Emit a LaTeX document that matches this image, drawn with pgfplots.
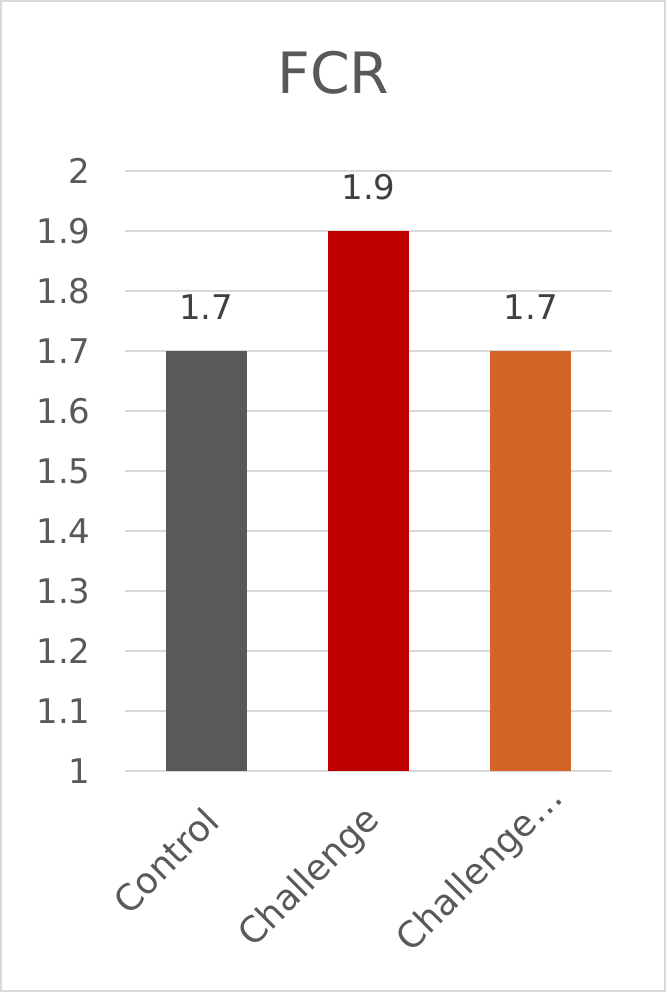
\documentclass[border=0pt]{standalone}
\usepackage{fontspec}
\setmainfont{DejaVu Sans}
\usepackage{pgfplots}
\pgfplotsset{compat=1.18}
\definecolor{txt}{HTML}{595959}
\definecolor{lbl}{HTML}{404040}
\definecolor{grd}{HTML}{D9D9D9}
\definecolor{cgray}{HTML}{595959}
\definecolor{cred}{HTML}{C00000}
\definecolor{corange}{HTML}{D26428}
\begin{document}
\begin{tikzpicture}
\begin{axis}[
  scale only axis,
  width=487bp, height=600bp,
  xmin=-0.5, xmax=2.5,
  ymin=1, ymax=2,
  ytick={1,1.1,1.2,1.3,1.4,1.5,1.6,1.7,1.8,1.9,2},
  yticklabels={1,1.1,1.2,1.3,1.4,1.5,1.6,1.7,1.8,1.9,2},
  xtick={0,1,2},
  xticklabels={Control,Challenge,{Challenge…\kern-30bp}},
  /pgf/number format/assume math mode=true,
  ticklabel style={font=\fontsize{34bp}{40bp}\selectfont, text=txt},
  yticklabel style={xshift=-31bp},
  xticklabel style={font=\fontsize{36bp}{42bp}\selectfont, xshift=8bp, yshift=-41bp, rotate=45, anchor=east},
  major tick length=0pt,
  axis x line*=bottom,
  axis y line*=left,
  y axis line style={draw=none},
  x axis line style={grd, line width=2.5bp, -},
  ymajorgrids,
  grid style={grd, line width=2bp},
  title={FCR},
  title style={at={(0.5,1)}, anchor=base, xshift=-35bp, yshift=72bp, font=\fontsize{57bp}{62bp}\selectfont, text=txt},
  ybar, bar width=81bp, bar shift=0pt,
  nodes near coords,
  every node near coord/.append style={anchor=base, yshift=31bp, font=\fontsize{34bp}{40bp}\selectfont, text=lbl},
  clip=false,
]
\addplot[fill=cgray, draw=none] coordinates {(0,1.7)};
\addplot[fill=cred, draw=none] coordinates {(1,1.9)};
\addplot[fill=corange, draw=none] coordinates {(2,1.7)};
\end{axis}
\draw[grd, line width=2bp] ([shift={(-124bp,-220bp)}]current axis.south west) rectangle ([shift={(53bp,170bp)}]current axis.north east);
\end{tikzpicture}
\end{document}
